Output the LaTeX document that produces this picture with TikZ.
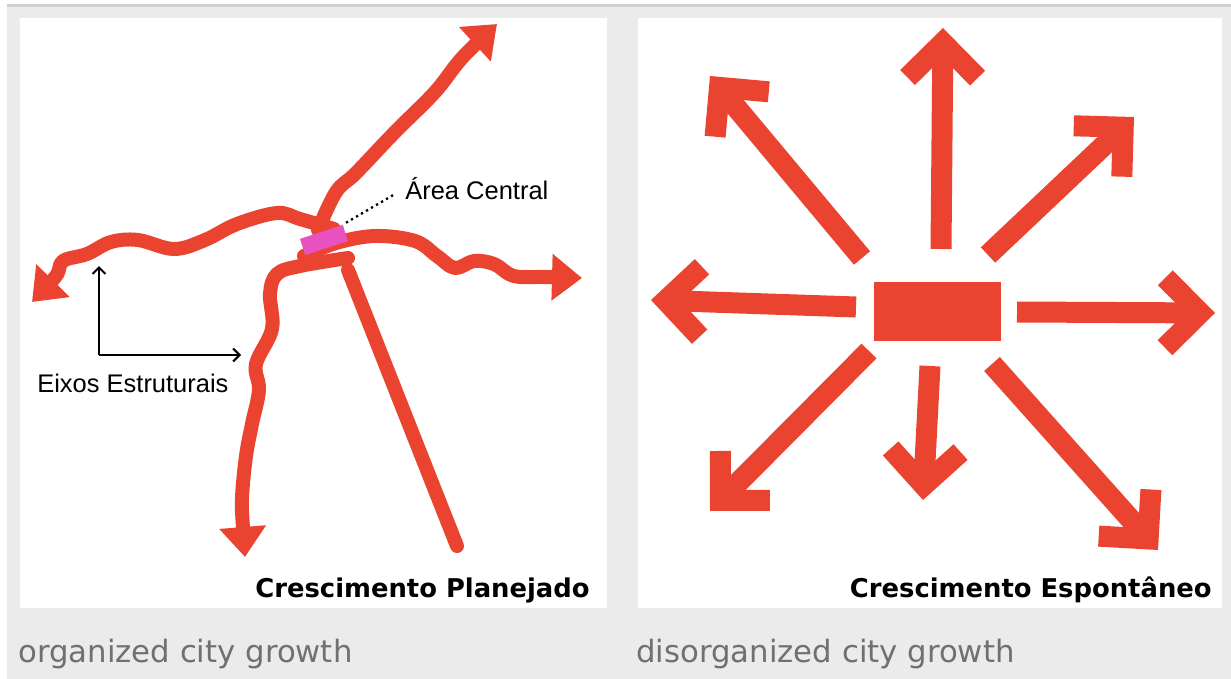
\documentclass[tikz,border=0pt]{standalone}
\usepackage{fontspec}
\setmainfont{Liberation Sans}
\newfontfamily\vfont{DejaVu Sans}
\usepackage{tikz}
\usetikzlibrary{arrows.meta,positioning}
\definecolor{roadred}{RGB}{234,68,48}
\definecolor{corepink}{RGB}{233,80,192}
\definecolor{pagegray}{RGB}{235,235,235}
\definecolor{rulegray}{RGB}{208,208,208}
\definecolor{capgray}{RGB}{112,112,112}

\begin{document}
\begin{tikzpicture}[x=0.02cm,y=-0.02cm,
  road/.style={draw=roadred,line width=0.28cm,line cap=round,line join=round},
  roadtip/.style={-{Triangle[length=0.6cm,width=0.9cm]}},
  spoke/.style={draw=roadred,line width=0.42cm,-{Straight Barb[length=0.7cm,width=1.4cm]}},
  axis/.style={draw=black,line width=1.2pt,-{Straight Barb[length=1.3mm,width=2.6mm]}},
  label/.style={font=\fontsize{14.5}{16}\selectfont,inner sep=0pt,anchor=base west},
  title/.style={font=\vfont\bfseries\fontsize{14.7}{16}\selectfont,inner sep=0pt,anchor=base east},
  caption/.style={font=\vfont\fontsize{17.5}{20}\selectfont,text=capgray,inner sep=0pt,anchor=base west}]
\path[use as bounding box,fill=white] (0,0) rectangle (1231,679);
\fill[pagegray] (7,4) rectangle (1231,679);
\fill[rulegray] (7,4) rectangle (1231,7);
\fill[white] (20,18) rectangle (607,608);
\fill[white] (638,18) rectangle (1222,608);

\coordinate (h_ne) at (497,24);
\coordinate (h_w) at (32,302);
\coordinate (h_e) at (582,278);
\coordinate (h_s) at (245,557);
\coordinate (b_s) at (348,270);
\coordinate (e_s) at (457,546);
\draw[road] (b_s) -- (e_s);
\draw[road,roadtip] plot[smooth,tension=0.6] coordinates {(318,230) (336,192) (356,173) (395,132) (435,92) (462,58) (h_ne)};
\draw[road,roadtip] plot[smooth,tension=0.6] coordinates {(334,229) (300,219) (277,213) (237,224) (205,240) (174,249) (138,240) (111,242) (87,254) (63,261) (56,276) (h_w)};
\draw[road,roadtip] plot[smooth,tension=0.6] coordinates {(304,256) (336,243) (375,236) (415,241) (437,256) (455,268) (474,261) (494,264) (514,276) (545,277) (h_e)};
\draw[road,roadtip] plot[smooth,tension=0.6] coordinates {(348,258) (300,266) (277,274) (270,294) (272,329) (256,364) (259,390) (252,424) (246,456) (242,498) (243,528) (h_s)};
\node[fill=corepink,minimum width=0.9cm,minimum height=0.34cm,inner sep=0pt,rotate=18](p_c) at (324,240) {};
\node[label](area) at (405,199) {Área Central};
\draw[black,dotted,line width=1.3pt,shorten <=2pt] (p_c.north east) -- ([xshift=-2mm,yshift=1mm]area.base west);

\coordinate (ax_o) at (99,355);
\coordinate (ax_y) at (99,266);
\coordinate (ax_x) at (241,355);
\draw[axis] (ax_o) -- (ax_y);
\draw[axis] (ax_o) -- (ax_x);
\node[label](eixos) at (37,392) {Eixos Estruturais};
\node[title](t_l) at (590,597) {Crescimento Planejado};

\node[fill=roadred,minimum width=2.54cm,minimum height=1.18cm,inner sep=0pt](r_c) at (937.5,311.5) {};
\coordinate (s_n) at (941,249);   \coordinate (h_n) at (943,28);
\coordinate (s_nw) at (862,258);  \coordinate (h_nw) at (710,76);
\coordinate (s_ne) at (988,255);  \coordinate (h_nne) at (1134,117);
\coordinate (s_w) at (856,307);   \coordinate (h_ww) at (651,300);
\coordinate (s_e) at (1017,312);  \coordinate (h_ee) at (1215,313);
\coordinate (s_sw) at (869,351);  \coordinate (h_sw) at (710,511);
\coordinate (s_s) at (930,366);   \coordinate (h_ss) at (923,500);
\coordinate (s_se) at (992,364);  \coordinate (h_se) at (1158,550);
\draw[spoke] (s_n) -- (h_n);
\draw[spoke] (s_nw) -- (h_nw);
\draw[spoke] (s_ne) -- (h_nne);
\draw[spoke] (s_w) -- (h_ww);
\draw[spoke] (s_e) -- (h_ee);
\draw[spoke] (s_sw) -- (h_sw);
\draw[spoke] (s_s) -- (h_ss);
\draw[spoke] (s_se) -- (h_se);
\node[title](t_r) at (1212,597) {Crescimento Espontâneo};

\node[caption](c_l) at (18,662) {organized city growth};
\node[caption](c_r) at (636,662) {disorganized city growth};
\end{tikzpicture}
\end{document}
